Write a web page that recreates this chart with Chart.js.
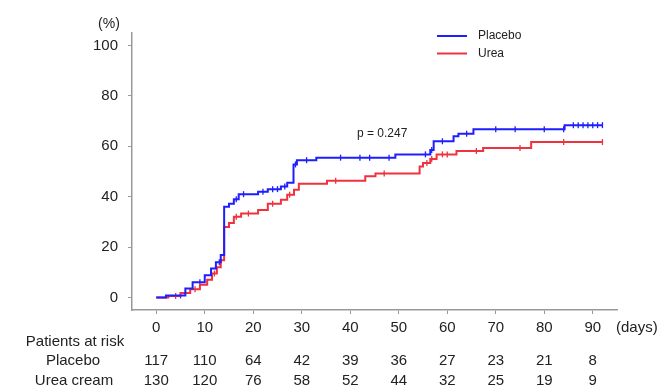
<!DOCTYPE html>
<html>
<head>
<meta charset="utf-8">
<script src="https://cdn.jsdelivr.net/npm/chart.js@4.4.1/dist/chart.umd.min.js"></script>
<style>
  html, body { margin: 0; padding: 0; background: #fff; }
  #wrap { width: 661px; height: 392px; position: relative; }
</style>
</head>
<body>
<div id="wrap"><canvas id="km"></canvas></div>
<script>
// cumulative incidence curves (day, %)
const placeboDays = [0, 2, 6, 7.5, 10, 11.3, 12.3, 13.3, 14, 15, 16, 17, 21, 23, 25.7, 27, 28.3, 29, 33, 49.3, 56.5, 57.2, 61.3, 62.3, 65.4, 84.2, 92]
const placeboPct = [0, 0.8, 3.5, 6, 8.8, 11.5, 14, 16.8, 36, 37.2, 39, 41, 42, 43, 44, 45.5, 52.8, 54.5, 55.5, 56.8, 58.5, 62, 64, 65, 66.8, 68.4, 68.4]
const ureaDays = [0, 2.5, 5, 7, 9, 10.5, 11.5, 12.5, 13.3, 14, 15, 16, 17.5, 21, 23, 25.7, 27, 28.4, 29.4, 35.2, 43.1, 45.2, 54.3, 55, 56.5, 57.8, 61.9, 67.4, 77.3, 92]
const ureaPct = [0, 0.6, 1.8, 3.2, 5, 7, 9.5, 12, 14.8, 28, 29.5, 32, 33.3, 34.7, 37.2, 38.8, 40.8, 42.8, 45.1, 46.3, 48.1, 49.2, 52, 53.4, 55, 56.8, 58.1, 59.3, 61.7, 61.7]

// censoring times
const placeboCensor = [5, 9, 13, 16.5, 18, 22, 24, 25, 26.5, 28.7, 31, 38, 42, 44, 48, 55.5, 56.8, 59, 64, 70, 74, 80, 84, 86, 87, 88, 89, 90, 91, 92]
const ureaCensor = [4, 8, 12, 16.5, 19, 24, 27.5, 37, 47, 55.8, 56.8, 59, 60, 66, 75, 84, 92]

// axes and risk table
const xTicks = [0, 10, 20, 30, 40, 50, 60, 70, 80, 90]
const yTicks = [0, 20, 40, 60, 80, 100]
const riskPlacebo = [117, 110, 64, 42, 39, 36, 27, 23, 21, 8]
const riskUrea = [130, 120, 76, 58, 52, 44, 32, 25, 19, 9]

const BLUE = 'rgb(30,30,255)'
const RED = 'rgb(238,50,62)'
const FONT = '"Liberation Sans", Arial, sans-serif'
const TXT = '#222'

const stepAt = (days, pct, t) => {
  let v = pct[0]
  for (let i = 0; i < days.length; i++) if (days[i] <= t) v = pct[i]
  return v
}
const pts = (days, pct) => days.map((d, i) => ({ x: d, y: pct[i] }))
const censorPts = (times, days, pct) => times.map(t => ({ x: t, y: stepAt(days, pct, t) }))

const extras = {
  id: 'extras',
  afterDraw(chart) {
    const ctx = chart.ctx
    const xs = chart.scales.x
    ctx.save()
    ctx.fillStyle = TXT
    ctx.textBaseline = 'middle'

    // y unit
    ctx.font = '14px ' + FONT
    ctx.textAlign = 'center'
    ctx.fillText('(%)', 109, 24)

    // p value
    ctx.font = '12px ' + FONT
    ctx.textAlign = 'left'
    ctx.fillText('p = 0.247', 357, 134)

    // legend
    const items = [chart.data.datasets[0], chart.data.datasets[1]]
    items.forEach((ds, i) => {
      const y = 36 + i * 17.5
      ctx.strokeStyle = ds.borderColor
      ctx.lineWidth = 2
      ctx.beginPath()
      ctx.moveTo(437, y)
      ctx.lineTo(467, y)
      ctx.stroke()
      ctx.fillStyle = TXT
      ctx.font = '12px ' + FONT
      ctx.fillText(ds.label, 478, y)
    })

    // x unit
    ctx.font = '15px ' + FONT
    ctx.textAlign = 'left'
    ctx.fillText('(days)', 616, 328)

    // risk table
    ctx.textAlign = 'center'
    ctx.fillText('Patients at risk', 75, 342)
    ctx.fillText('Placebo', 73, 361)
    ctx.fillText('Urea cream', 74, 381)
    xTicks.forEach((d, i) => {
      const x = xs.getPixelForValue(d)
      ctx.fillText(String(riskPlacebo[i]), x, 361)
      ctx.fillText(String(riskUrea[i]), x, 381)
    })
    ctx.restore()
  },
}

const config = {
  type: 'line',
  data: {
    datasets: [
      {
        label: 'Placebo',
        data: pts(placeboDays, placeboPct),
        borderColor: BLUE,
        borderWidth: 2,
        stepped: true,
        pointRadius: 0,
        fill: false,
      },
      {
        label: 'Urea',
        data: pts(ureaDays, ureaPct),
        borderColor: RED,
        borderWidth: 2,
        stepped: true,
        pointRadius: 0,
        fill: false,
      },
      {
        label: 'Placebo censored',
        data: censorPts(placeboCensor, placeboDays, placeboPct),
        showLine: false,
        pointStyle: 'line',
        rotation: 90,
        pointRadius: 3,
        borderColor: BLUE,
        pointBorderWidth: 1.3,
      },
      {
        label: 'Urea censored',
        data: censorPts(ureaCensor, ureaDays, ureaPct),
        showLine: false,
        pointStyle: 'line',
        rotation: 90,
        pointRadius: 3,
        borderColor: RED,
        pointBorderWidth: 1.3,
      },
    ],
  },
  options: {
    responsive: true,
    maintainAspectRatio: false,
    animation: false,
    layout: { padding: { top: 33, right: 44, left: 0, bottom: 0 } },
    plugins: {
      legend: { display: false },
      tooltip: { enabled: false },
    },
    scales: {
      x: {
        type: 'linear',
        min: -5,
        max: 95,
        afterBuildTicks: (s) => { s.ticks = xTicks.map(v => ({ value: v })) },
        afterFit: (s) => { s.height = 82 },
        grid: { drawOnChartArea: false, tickLength: 4, color: '#999' },
        border: { color: '#999', width: 1.5 },
        ticks: { font: { size: 15, family: FONT }, color: TXT, padding: 5, maxRotation: 0, autoSkip: false },
      },
      y: {
        min: -5,
        max: 105,
        afterBuildTicks: (s) => { s.ticks = yTicks.map(v => ({ value: v })) },
        afterFit: (s) => { s.width = 132 },
        grid: { drawOnChartArea: false, tickLength: 4, color: '#999' },
        border: { color: '#999', width: 1.5 },
        ticks: { font: { size: 15, family: FONT }, color: TXT, padding: 10 },
      },
    },
  },
  plugins: [extras],
}

new Chart(document.getElementById('km'), config)
</script>
</body>
</html>
